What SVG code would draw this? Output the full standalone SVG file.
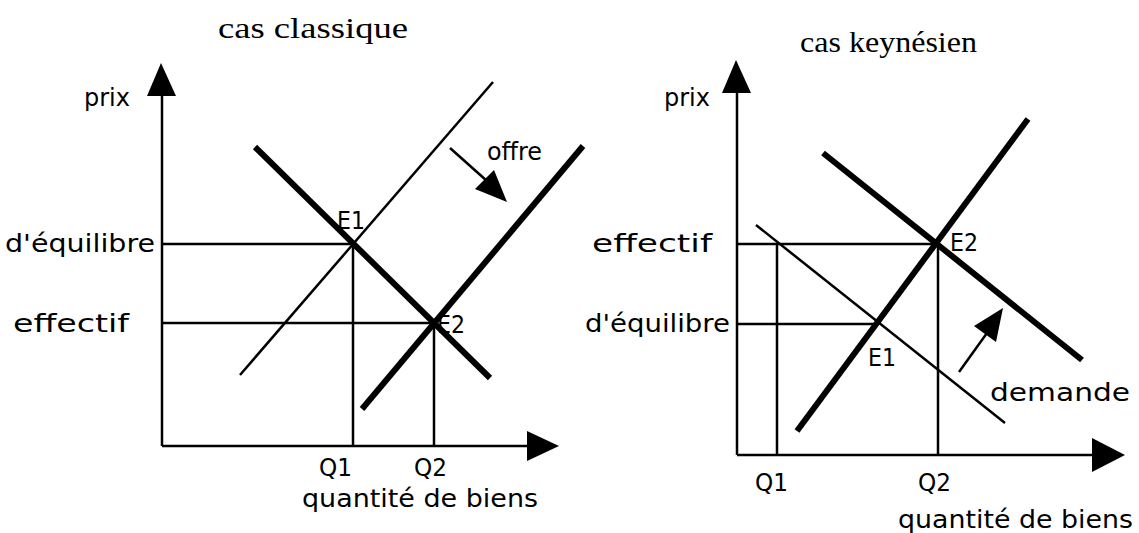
<svg xmlns="http://www.w3.org/2000/svg" width="1139" height="533" viewBox="0 0 1139 533">
<style>
.ax{stroke:#000;stroke-width:2.5;fill:none}
.thin{stroke:#000;stroke-width:2.5;fill:none}
.thick{stroke:#000;stroke-width:6;fill:none;stroke-linecap:butt}
.lbl{font-family:"DejaVu Sans",sans-serif;font-size:24px;fill:#000}
.title{font-family:"Liberation Serif",serif;font-size:30px;fill:#000}
.head{fill:#000}
</style>
<rect width="1139" height="533" fill="#fff"/>
<g id="connectors">
<line class="ax" x1="162" y1="95" x2="162" y2="446"/>
<polygon class="head" points="161,63 147,96 176,96"/>
<line class="ax" x1="162" y1="446" x2="528" y2="446"/>
<polygon class="head" points="559,446 527,431 527,461"/>
<line class="thin" x1="162" y1="244" x2="353" y2="244"/>
<line class="thin" x1="162" y1="323" x2="434" y2="323"/>
<line class="thin" x1="353" y1="244" x2="353" y2="446"/>
<line class="thin" x1="434" y1="323" x2="434" y2="446"/>
<line class="thin" x1="240" y1="375" x2="493" y2="82"/>
<line class="thick" x1="255" y1="147" x2="490" y2="378"/>
<line class="thick" x1="362" y1="409" x2="583" y2="146"/>
<line class="thin" x1="450" y1="148" x2="487" y2="181"/>
<polygon class="head" points="507,202 475,189 494,170"/>
<line class="ax" x1="737" y1="92" x2="737" y2="455"/>
<polygon class="head" points="736,60 722,93 751,93"/>
<line class="ax" x1="737" y1="455" x2="1093" y2="455"/>
<polygon class="head" points="1125,455 1092,438 1092,472"/>
<line class="thin" x1="737" y1="244" x2="937" y2="244"/>
<line class="thin" x1="737" y1="324" x2="877" y2="324"/>
<line class="thin" x1="777" y1="244" x2="777" y2="455"/>
<line class="thin" x1="938" y1="244" x2="938" y2="455"/>
<line class="thin" x1="756" y1="225" x2="1005" y2="423"/>
<line class="thick" x1="823" y1="153" x2="1082" y2="360"/>
<line class="thick" x1="797" y1="431" x2="1028" y2="119"/>
<line class="thin" x1="959" y1="372" x2="987" y2="333"/>
<polygon class="head" points="1003,308 974,326 996,342"/>
</g>
<g id="labels">
<text class="title" x="218" y="38" textLength="190" lengthAdjust="spacingAndGlyphs">cas classique</text>
<text class="title" x="800" y="52" textLength="177" lengthAdjust="spacingAndGlyphs">cas keynésien</text>
<text class="lbl" x="84" y="106">prix</text>
<text class="lbl" x="5" y="252" textLength="150" lengthAdjust="spacingAndGlyphs">d'équilibre</text>
<text class="lbl" x="13" y="332" textLength="116" lengthAdjust="spacingAndGlyphs">effectif</text>
<text class="lbl" x="337" y="229" textLength="28" lengthAdjust="spacingAndGlyphs">E1</text>
<text class="lbl" x="437" y="333" textLength="28" lengthAdjust="spacingAndGlyphs">E2</text>
<text class="lbl" x="487" y="160" textLength="55" lengthAdjust="spacingAndGlyphs">offre</text>
<text class="lbl" x="319" y="476" textLength="33" lengthAdjust="spacingAndGlyphs">Q1</text>
<text class="lbl" x="414" y="476" textLength="33" lengthAdjust="spacingAndGlyphs">Q2</text>
<text class="lbl" x="302" y="507" textLength="236" lengthAdjust="spacingAndGlyphs">quantité de biens</text>
<text class="lbl" x="664" y="106">prix</text>
<text class="lbl" x="592" y="252" textLength="120" lengthAdjust="spacingAndGlyphs">effectif</text>
<text class="lbl" x="585" y="332" textLength="145" lengthAdjust="spacingAndGlyphs">d'équilibre</text>
<text class="lbl" x="950" y="251" textLength="28" lengthAdjust="spacingAndGlyphs">E2</text>
<text class="lbl" x="868" y="366" textLength="28" lengthAdjust="spacingAndGlyphs">E1</text>
<text class="lbl" x="990" y="401" textLength="140" lengthAdjust="spacingAndGlyphs">demande</text>
<text class="lbl" x="755" y="491" textLength="33" lengthAdjust="spacingAndGlyphs">Q1</text>
<text class="lbl" x="918" y="491" textLength="33" lengthAdjust="spacingAndGlyphs">Q2</text>
<text class="lbl" x="898" y="528" textLength="235" lengthAdjust="spacingAndGlyphs">quantité de biens</text>
</g>
</svg>
